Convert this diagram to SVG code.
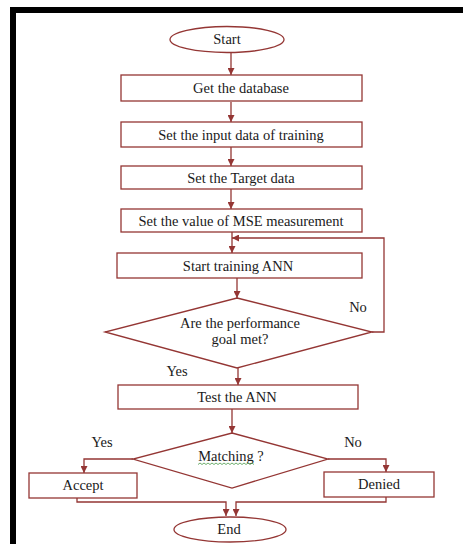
<svg xmlns="http://www.w3.org/2000/svg" width="463" height="544" viewBox="0 0 463 544">
<style>
.n{fill:#fff;stroke:#943634;stroke-width:1.3}
.c{fill:none;stroke:#943634;stroke-width:1.3}
text{font-family:"Liberation Serif","Times New Roman",serif;font-size:14.5px;fill:#1a1a1a;text-anchor:middle}
</style>
<defs>
<marker id="ah" viewBox="0 0 8 8" refX="8" refY="4" markerWidth="7" markerHeight="7" markerUnits="userSpaceOnUse" orient="auto"><path d="M0,0 L8,4 L0,8 z" fill="#943634"/></marker>
</defs>
<rect width="463" height="544" fill="#fff"/>
<path d="M13,544 V10 H463" fill="none" stroke="#000" stroke-width="6"/>
<g id="connectors">
<path class="c" d="M231,53 V75" marker-end="url(#ah)"/>
<path class="c" d="M231,102 V122" marker-end="url(#ah)"/>
<path class="c" d="M231,147 V166" marker-end="url(#ah)"/>
<path class="c" d="M231,189 V209" marker-end="url(#ah)"/>
<path class="c" d="M232,232 V253" marker-end="url(#ah)"/>
<path class="c" d="M372,332 H384 V238 H232" marker-end="url(#ah)"/>
<path class="c" d="M237,278 V298" marker-end="url(#ah)"/>
<path class="c" d="M238,368 V385" marker-end="url(#ah)"/>
<path class="c" d="M232,409 V433" marker-end="url(#ah)"/>
<path class="c" d="M133,459 H84 V473" marker-end="url(#ah)"/>
<path class="c" d="M328,459 H386 V472" marker-end="url(#ah)"/>
<path class="c" d="M77,498 V502 H226 V516" marker-end="url(#ah)"/>
<path class="c" d="M386,497 V502 H236 V516" marker-end="url(#ah)"/>
<text x="358" y="312">No</text>
<text x="177" y="376">Yes</text>
<text x="102" y="447">Yes</text>
<text x="353" y="447">No</text>
</g>
<g id="start"><ellipse class="n" cx="227" cy="39.5" rx="57" ry="13"/><text x="227" y="44">Start</text></g>
<g id="get-database"><rect class="n" x="121" y="75" width="241" height="26"/><text x="241" y="93">Get the database</text></g>
<g id="set-input"><rect class="n" x="121" y="122" width="241" height="25"/><text x="241" y="139.5">Set the input data of training</text></g>
<g id="set-target"><rect class="n" x="121" y="166" width="241" height="23"/><text x="241" y="182.5">Set the Target data</text></g>
<g id="set-mse"><rect class="n" x="121" y="209" width="241" height="23"/><text x="241" y="225.5">Set the value of MSE measurement</text></g>
<g id="start-training"><rect class="n" x="117" y="253" width="245" height="25"/><text x="238" y="270.5">Start training ANN</text></g>
<g id="performance-goal"><polygon class="n" points="237,298 372,332 237,368 105,332"/><text x="240" y="328">Are the performance</text><text x="240" y="344">goal met?</text></g>
<g id="test-ann"><rect class="n" x="118" y="385" width="240" height="24"/><text x="237" y="402">Test the ANN</text></g>
<g id="matching"><polygon class="n" points="232,433 328,459 232,488 133,459"/><text x="231" y="461">Matching ?</text><path d="M198,464.5 l2,-1.5 l2,1.5 l2,-1.5 l2,1.5 l2,-1.5 l2,1.5 l2,-1.5 l2,1.5 l2,-1.5 l2,1.5 l2,-1.5 l2,1.5 l2,-1.5 l2,1.5 l2,-1.5 l2,1.5 l2,-1.5 l2,1.5 l2,-1.5 l2,1.5 l2,-1.5 l2,1.5 l2,-1.5 l2,1.5 l2,-1.5 l2,1.5 l2,-1.5 l2,1.5" fill="none" stroke="#4a9a4a" stroke-width="0.8"/></g>
<g id="accept"><rect class="n" x="29" y="473" width="108" height="25"/><text x="83" y="490">Accept</text></g>
<g id="denied"><rect class="n" x="324" y="472" width="110" height="25"/><text x="379" y="489">Denied</text></g>
<g id="end"><ellipse class="n" cx="230" cy="529.5" rx="56" ry="12.5"/><text x="229" y="534">End</text></g>
</svg>
